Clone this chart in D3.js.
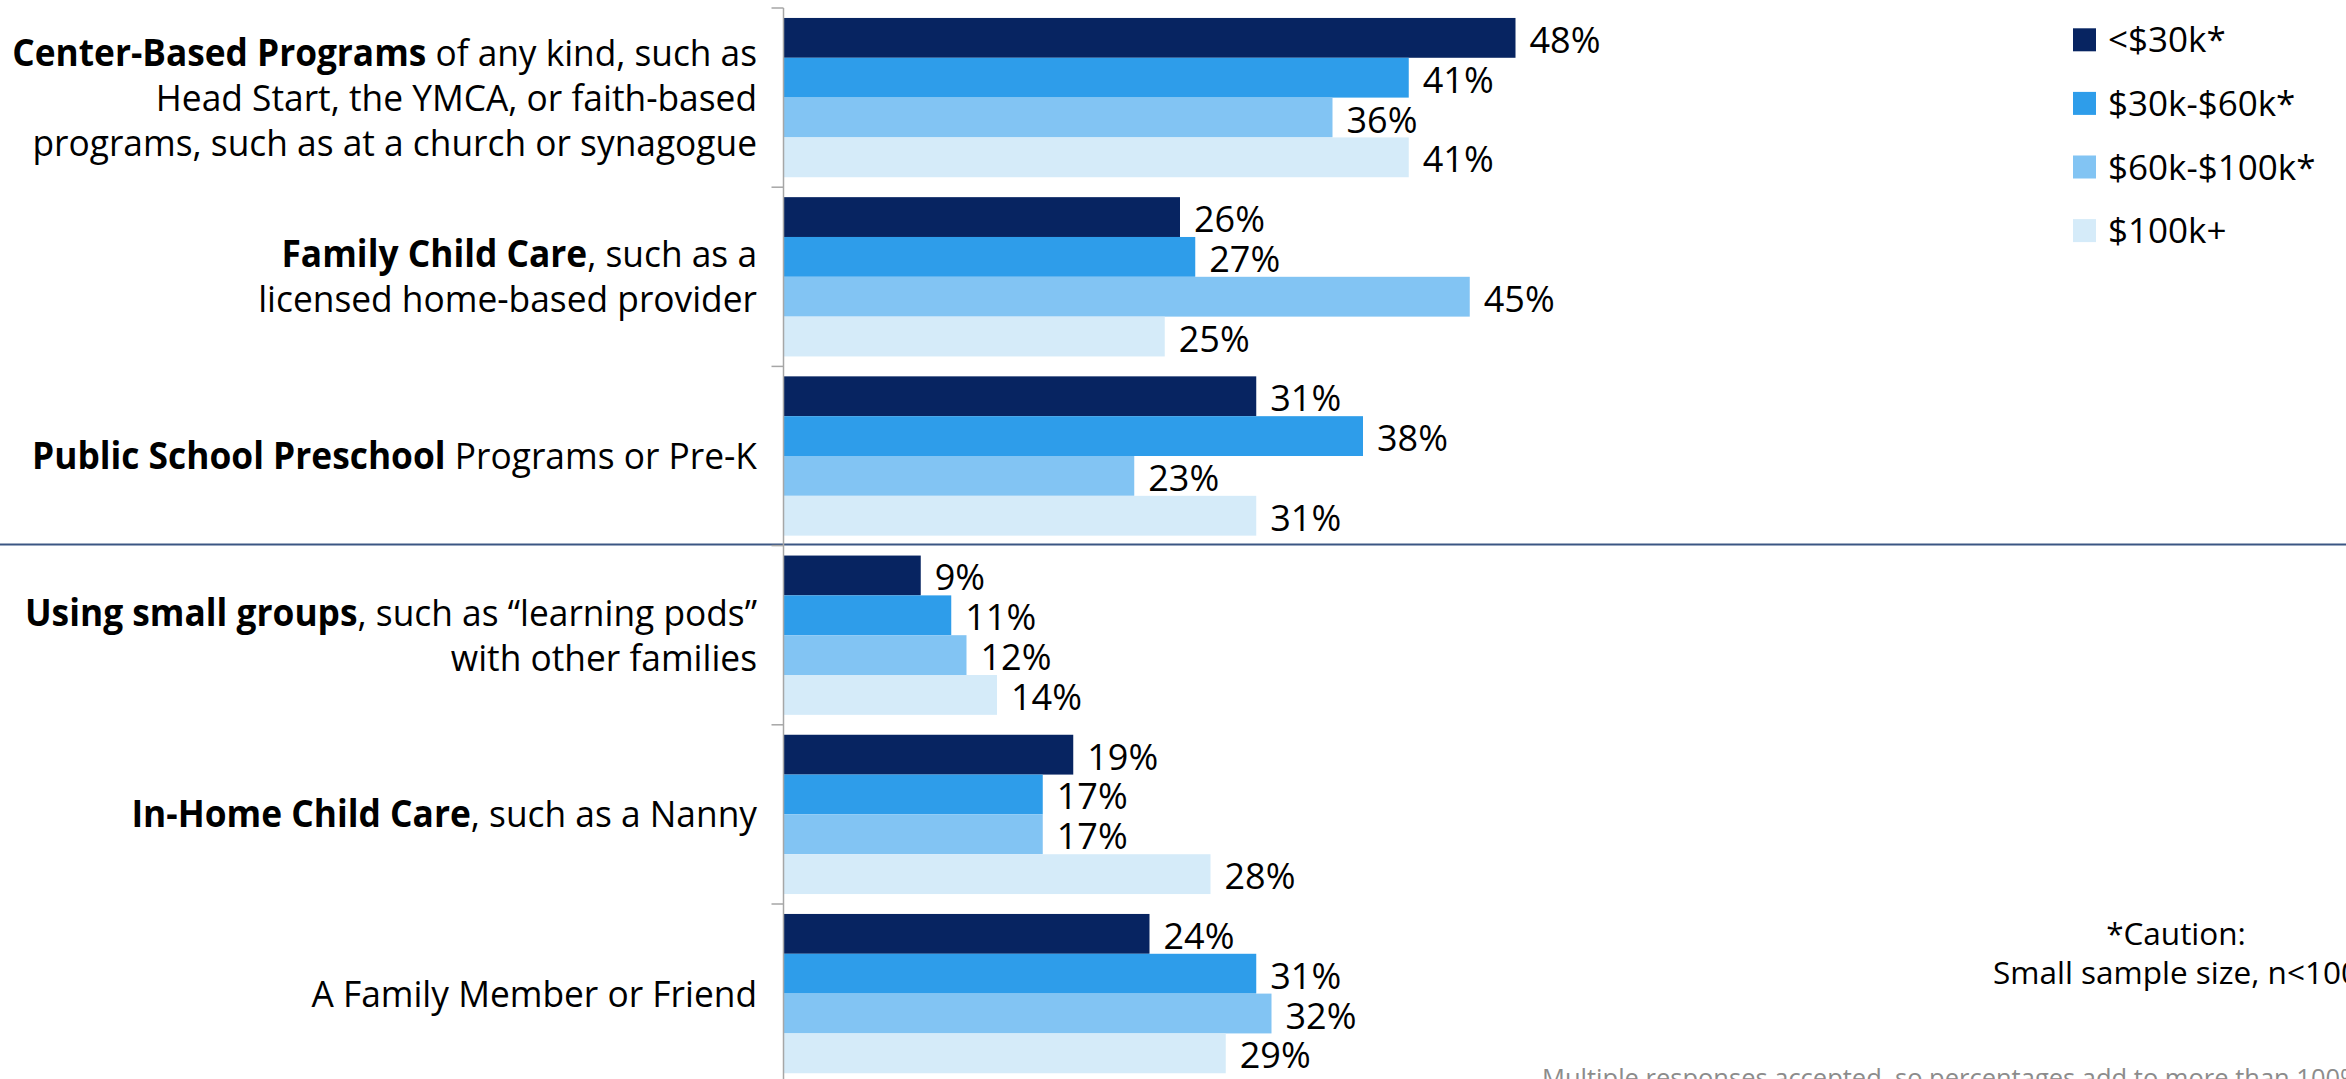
<!DOCTYPE html>
<html><head><meta charset="utf-8">
<script src="https://cdn.jsdelivr.net/npm/d3@7"></script>
<style>html,body{margin:0;padding:0;background:#fff;overflow:hidden}</style>
</head><body><svg id="chart" width="2346" height="1079"></svg>
<script>
// ---------- DATA ----------
const categories = [
  "Center-Based Programs",
  "Family Child Care",
  "Public School Preschool",
  "Using small groups",
  "In-Home Child Care",
  "A Family Member or Friend"
];
// label lines: each line is a list of [text, bold]
const categoryLabelLines = [
  [[["Center-Based Programs", true], [" of any kind, such as", false]],
   [["Head Start, the YMCA, or faith-based", false]],
   [["programs, such as at a church or synagogue", false]]],
  [[["Family Child Care", true], [", such as a", false]],
   [["licensed home-based provider", false]]],
  [[["Public School Preschool", true], [" Programs or Pre-K", false]]],
  [[["Using small groups", true], [", such as \u201Clearning pods\u201D", false]],
   [["with other families", false]]],
  [[["In-Home Child Care", true], [", such as a Nanny", false]]],
  [[["A Family Member or Friend", false]]]
];
const seriesNames = ["<$30k*", "$30k-$60k*", "$60k-$100k*", "$100k+"];
const under30k    = [0.48, 0.26, 0.31, 0.09, 0.19, 0.24];
const from30to60  = [0.41, 0.27, 0.38, 0.11, 0.17, 0.31];
const from60to100 = [0.36, 0.45, 0.23, 0.12, 0.17, 0.32];
const over100k    = [0.41, 0.25, 0.31, 0.14, 0.28, 0.29];
const seriesValues = [under30k, from30to60, from60to100, over100k];
const seriesColors = ["#072461", "#2E9DEA", "#82C4F3", "#D5EBF9"];
const cautionLines = ["*Caution:", "Small sample size, n<100"];
const footnote = "Multiple responses accepted, so percentages add to more than 100%";
const separatorBefore = "Using small groups";

// ---------- LAYOUT ----------
const W = 2346, H = 1079;
const FONT = "'Open Sans', 'Noto Sans', sans-serif";
const svg = d3.select("#chart");
svg.append("rect").attr("width", W).attr("height", H).attr("fill", "#fff");

const axisX = 783.5;
const x = d3.scaleLinear().domain([0, 1]).range([axisX, axisX + 1525]);
const y0 = d3.scaleBand().domain(categories).range([8, 8 + 179.2 * categories.length]).padding(0);
const y1 = d3.scaleBand().domain(seriesNames).range([0, y0.bandwidth()]).paddingInner(0).paddingOuter(0.25);
const fmt = d3.format(".0%");

const rows = categories.map((c, i) => ({
  cat: c, i,
  vals: seriesNames.map((s, j) => ({ series: s, value: seriesValues[j][i], color: seriesColors[j] }))
}));

// separator line
svg.append("line")
  .attr("x1", 0).attr("x2", W)
  .attr("y1", y0(separatorBefore) - 1).attr("y2", y0(separatorBefore) - 1)
  .attr("stroke", "#3B5683").attr("stroke-width", 2);

// bars + values
const grp = svg.append("g").selectAll("g").data(rows).join("g")
  .attr("transform", d => `translate(0,${y0(d.cat)})`);
grp.selectAll("rect").data(d => d.vals).join("rect")
  .attr("x", x(0)).attr("y", d => y1(d.series))
  .attr("width", d => x(d.value) - x(0))
  .attr("height", y1.bandwidth())
  .attr("fill", d => d.color);
grp.selectAll("text").data(d => d.vals).join("text")
  .attr("x", d => x(d.value) + 14)
  .attr("y", d => y1(d.series) + y1.bandwidth() / 2 + 15)
  .attr("font-family", FONT).attr("font-size", 36).attr("fill", "#000")
  .text(d => fmt(d.value));

// axis
const axisG = svg.append("g").attr("stroke", "#A6A6A6").attr("stroke-width", 1.5);
axisG.append("line").attr("x1", axisX).attr("x2", axisX)
  .attr("y1", y0.range()[0]).attr("y2", H);
axisG.selectAll("line.tick").data(categories).join("line").attr("class", "tick")
  .attr("x1", axisX - 12).attr("x2", axisX)
  .attr("y1", d => y0(d)).attr("y2", d => y0(d));

// category labels (one text element per line, slightly condensed like Segoe UI)
const labelX = 757, lineGap = 45, maxLabelW = 745, condense = 0.955;
const labG = svg.append("g");
rows.forEach(d => {
  const lines = categoryLabelLines[d.i];
  const cy = y0(d.cat) + y0.bandwidth() / 2;
  lines.forEach((segs, li) => {
    const by = cy + (li - (lines.length - 1) / 2) * lineGap + 13;
    const t = labG.append("text")
      .attr("text-anchor", "end").attr("font-family", FONT).attr("font-size", 37).attr("fill", "#000");
    segs.forEach(s => t.append("tspan").text(s[0]).attr("font-weight", s[1] ? 700 : 400));
    const w = t.node().getComputedTextLength();
    const k = Math.min(condense, maxLabelW / w);
    t.attr("transform", `translate(${labelX},${by}) scale(${k},1)`);
  });
});

// legend
const leg = svg.append("g").selectAll("g").data(seriesNames).join("g")
  .attr("transform", (d, i) => `translate(2073,${28.3 + i * 63.6})`);
leg.append("rect").attr("width", 23).attr("height", 23).attr("fill", (d, i) => seriesColors[i]);
leg.append("text").attr("x", 35).attr("y", 24)
  .attr("font-family", FONT).attr("font-size", 35).attr("fill", "#000").text(d => d);

// caution note
svg.append("g").selectAll("text").data(cautionLines).join("text")
  .attr("x", 2176).attr("y", (d, i) => 945 + i * 38.5)
  .attr("text-anchor", "middle").attr("font-family", FONT).attr("font-size", 31.5).attr("fill", "#000")
  .text(d => d);

// footnote
svg.append("text").attr("x", 1542).attr("y", 1087)
  .attr("font-family", FONT).attr("font-size", 25.5).attr("fill", "#8C8C8C").text(footnote);
</script></body></html>
